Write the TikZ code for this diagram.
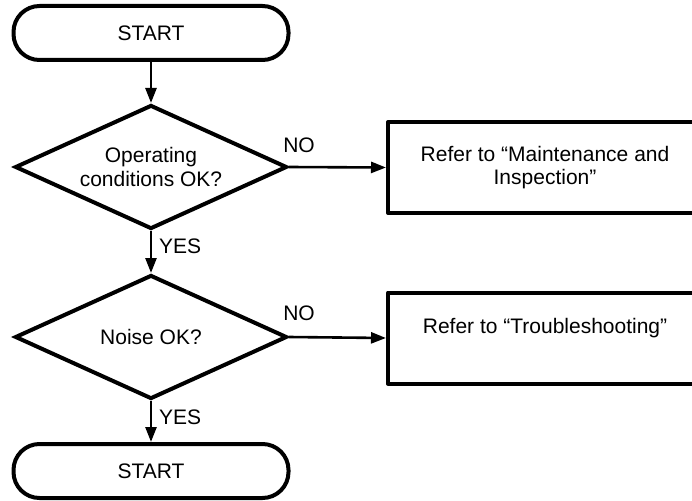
\documentclass[tikz,border=0pt]{standalone}
\usepackage{fontspec}
\setmainfont{Liberation Sans}
\usetikzlibrary{shapes.geometric,arrows.meta}
\begin{document}
\begin{tikzpicture}[x=1pt,y=-1pt,
  every node/.style={font=\fontsize{21}{23.5}\selectfont},
  term/.style={draw, line width=4pt, rounded corners=26pt, minimum width=275pt, minimum height=54pt, inner sep=0pt},
  decision/.style={draw, diamond, line width=4pt, minimum width=272pt, minimum height=124pt, inner sep=0pt},
  refbox/.style={draw, line width=4pt, line join=round, minimum width=314pt, minimum height=91pt, align=center, inner sep=0pt},
  flow/.style={line width=2.6pt, -{Triangle[length=15pt,width=11pt]}},
  lbl/.style={inner sep=0pt}]
\useasboundingbox (0,0) rectangle (692,500);
\begin{scope}
\clip (0,0) rectangle (692,500);
\node[term] (start) at (151,33) {START};
\node[decision, label={[align=center]center:Operating\\conditions OK?}] (d1) at (151,167) {};
\node[decision, label={center:Noise OK?}] (d2) at (151,337) {};
\node[term] (stop) at (151,471) {START};
\node[refbox] (b1) at (545,167.5) {Refer to “Maintenance and\\Inspection”};
\node[refbox] (b2) at (545,338) {Refer to “Troubleshooting”\\\mbox{}};

\draw[flow] (start.south) -- (d1.north);
\draw[flow] (d1.south) -- (d2.north);
\draw[flow] (d2.south) -- (stop.north);
\draw[flow] (d1.east) -- (b1.west);
\draw[flow] (d2.east) -- (b2.west);

\node[lbl] (no1) at (299,145) {NO};
\node[lbl] (no2) at (299,313) {NO};
\node[lbl, anchor=west] (yes1) at (159,246) {YES};
\node[lbl, anchor=west] (yes2) at (159,417) {YES};
\end{scope}
\end{tikzpicture}
\end{document}
